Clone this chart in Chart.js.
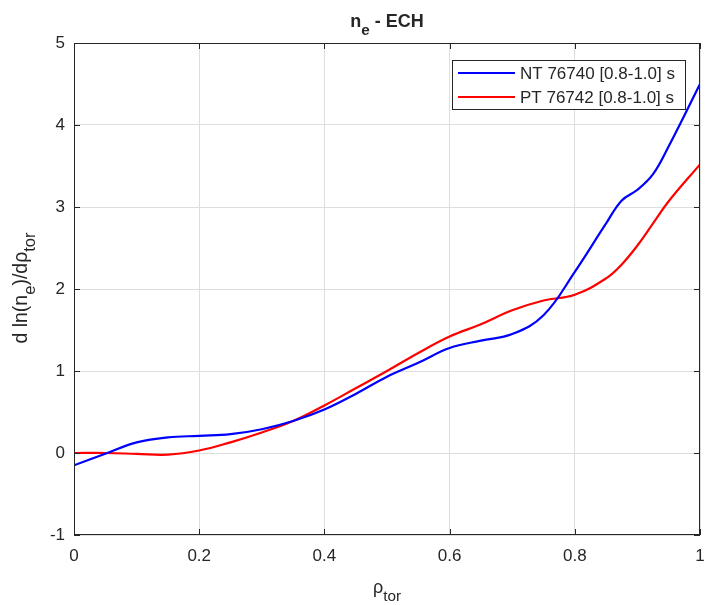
<!DOCTYPE html>
<html>
<head>
<meta charset="utf-8">
<script src="https://cdn.jsdelivr.net/npm/chart.js@4"></script>
<style>
  html, body { margin: 0; padding: 0; background: #fff; }
  #wrap { width: 716px; height: 605px; position: relative; }
</style>
</head>
<body>
<div id="wrap"><canvas id="ch_ne"></canvas></div>
<script>
// rho_tor grid and the two profiles
const rho = [0, 0.05, 0.1, 0.15, 0.2, 0.25, 0.3, 0.35, 0.4, 0.45, 0.5, 0.55,
             0.6, 0.65, 0.7, 0.75, 0.8, 0.85, 0.875, 0.9, 0.925, 0.95, 1.0];
const ntVals = [-0.15, -0.01, 0.13, 0.19, 0.21, 0.23, 0.29, 0.39, 0.53, 0.72, 0.93, 1.1,
                1.28, 1.37, 1.45, 1.68, 2.21, 2.8, 3.08, 3.21, 3.4, 3.74, 4.5];
const ptVals = [0, 0, -0.01, -0.02, 0.03, 0.13, 0.25, 0.39, 0.58, 0.79, 1.0, 1.22,
                1.42, 1.57, 1.74, 1.86, 1.93, 2.13, 2.3, 2.53, 2.8, 3.07, 3.52];
const seriesLabels = ['NT 76740 [0.8-1.0] s', 'PT 76742 [0.8-1.0] s'];
const seriesColors = ['#0000ff', '#ff0000'];
const xTicks = [0, 0.2, 0.4, 0.6, 0.8, 1];
const yTicks = [-1, 0, 1, 2, 3, 4, 5];

const FONT = 'Liberation Sans, Arial, Helvetica, sans-serif';
const INK = '#262626';

// draw a run of [text, isSub] pieces starting at x
function drawRich(ctx, parts, x, y, size, bold) {
  let cx = x;
  parts.forEach(([t, sub]) => {
    const s = sub ? size * 0.85 : size;
    ctx.font = (bold ? 'bold ' : '') + s + 'px ' + FONT;
    ctx.fillText(t, cx, sub ? y + size * 0.42 : y);
    cx += ctx.measureText(t).width;
  });
  return cx - x;
}
function richWidth(ctx, parts, size, bold) {
  let w = 0;
  parts.forEach(([t, sub]) => {
    ctx.font = (bold ? 'bold ' : '') + (sub ? size * 0.85 : size) + 'px ' + FONT;
    w += ctx.measureText(t).width;
  });
  return w;
}

const decor = {
  id: 'decor',
  afterDraw(chart) {
    const { ctx, chartArea: a } = chart;
    const xs = chart.scales.x, ys = chart.scales.y;
    ctx.save();
    ctx.fillStyle = INK;
    ctx.textBaseline = 'alphabetic';

    // box + inward ticks
    ctx.strokeStyle = INK;
    ctx.lineWidth = 1;
    ctx.strokeRect(a.left + 0.5, a.top + 0.5, a.right - a.left - 1, a.bottom - a.top - 1);
    ctx.beginPath();
    xTicks.forEach(v => {
      const px = Math.round(xs.getPixelForValue(v)) + 0.5;
      ctx.moveTo(px, a.bottom); ctx.lineTo(px, a.bottom - 6);
      ctx.moveTo(px, a.top); ctx.lineTo(px, a.top + 6);
    });
    yTicks.forEach(v => {
      const py = Math.round(ys.getPixelForValue(v)) + 0.5;
      ctx.moveTo(a.left, py); ctx.lineTo(a.left + 6, py);
      ctx.moveTo(a.right, py); ctx.lineTo(a.right - 6, py);
    });
    ctx.stroke();

    const cxm = (a.left + a.right) / 2;
    // title
    const tParts = [['n', false], ['e', true], [' - ECH', false]];
    drawRich(ctx, tParts, cxm - richWidth(ctx, tParts, 18, true) / 2, 27, 18, true);
    // x title
    const xParts = [['ρ', false], ['tor', true]];
    drawRich(ctx, xParts, cxm - richWidth(ctx, xParts, 18, false) / 2, 593, 18, false);
    // y title
    const yParts = [['d ln(n', false], ['e', true], [')/d', false], ['ρ', false], ['tor', true]];
    ctx.translate(27, 288);
    ctx.rotate(-Math.PI / 2);
    drawRich(ctx, yParts, -richWidth(ctx, yParts, 19.5, false) / 2, 0, 19.5, false);
    ctx.restore();

    // legend
    ctx.save();
    const lx = 452.5, ly = 60.5, lw = 233, lh = 49;
    ctx.fillStyle = '#fff';
    ctx.fillRect(lx, ly, lw, lh);
    ctx.strokeStyle = INK;
    ctx.lineWidth = 1;
    ctx.strokeRect(lx, ly, lw, lh);
    ctx.font = '17px ' + FONT;
    ctx.textBaseline = 'middle';
    chart.data.datasets.forEach((ds, i) => {
      const ry = 73 + i * 24;
      ctx.strokeStyle = ds.borderColor;
      ctx.lineWidth = 2;
      ctx.beginPath(); ctx.moveTo(458, ry); ctx.lineTo(515, ry); ctx.stroke();
      ctx.fillStyle = INK;
      ctx.fillText(ds.label, 520, ry + 1);
    });
    ctx.restore();
  }
};

const toPts = vals => rho.map((r, i) => ({ x: r, y: vals[i] }));

new Chart(document.getElementById('ch_ne').getContext('2d'), {
  type: 'line',
  data: {
    datasets: [ntVals, ptVals].map((vals, i) => ({
      label: seriesLabels[i],
      data: toPts(vals),
      borderColor: seriesColors[i],
      borderWidth: 2.2,
      pointRadius: 0,
      tension: 0.4,
      fill: false,
      clip: 0
    }))
  },
  options: {
    responsive: true,
    maintainAspectRatio: false,
    animation: false,
    layout: { padding: { left: 0, top: 43, right: 16, bottom: 0 } },
    plugins: { legend: { display: false }, tooltip: { enabled: false }, title: { display: false } },
    scales: {
      x: {
        type: 'linear', min: 0, max: 1,
        afterBuildTicks: s => { s.ticks = xTicks.map(v => ({ value: v })); },
        afterFit: s => { s.height = 70; },
        grid: { color: '#dedede', drawTicks: false },
        border: { display: false },
        ticks: { color: INK, font: { family: FONT, size: 17 }, padding: 11,
                 callback: v => String(v) }
      },
      y: {
        type: 'linear', min: -1, max: 5,
        afterBuildTicks: s => { s.ticks = yTicks.map(v => ({ value: v })); },
        afterFit: s => { s.width = 74; },
        grid: { color: '#dedede', drawTicks: false },
        border: { display: false },
        ticks: { color: INK, font: { family: FONT, size: 17 }, padding: 9,
                 callback: v => String(v) }
      }
    }
  },
  plugins: [decor]
});
</script>
</body>
</html>
